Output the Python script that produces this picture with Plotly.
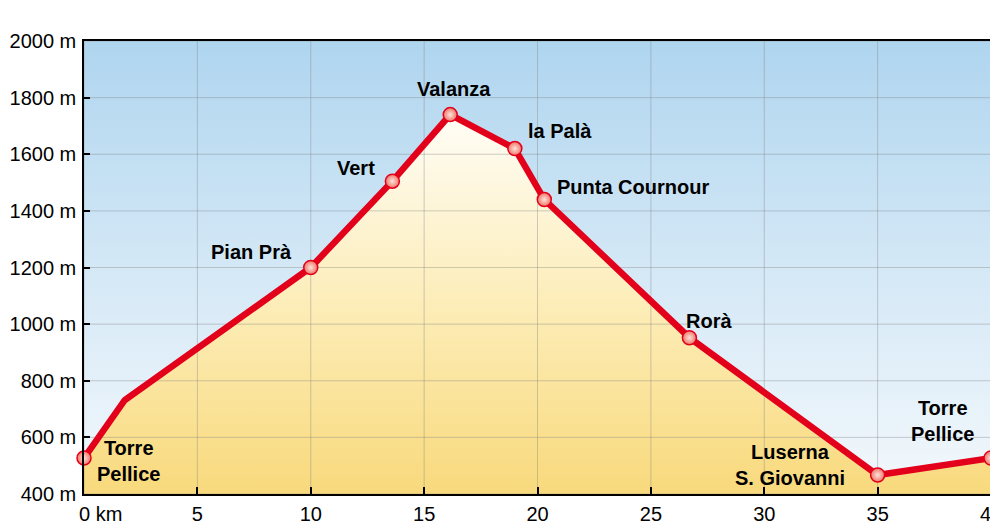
import plotly.graph_objs as go

# elevation profile: Torre Pellice loop
km = [0, 1.8, 10, 13.6, 16.15, 19.0, 20.3, 26.7, 35, 40]
elevation = [527, 732, 1200, 1505, 1740, 1620, 1440, 952, 467, 527]
names = ["Torre<br>Pellice", "", "Pian Prà", "Vert", "Valanza", "la Palà",
         "Punta Cournour", "Rorà", "Luserna<br>S. Giovanni", "Torre<br>Pellice"]

x_ticks = [0, 5, 10, 15, 20, 25, 30, 35, 40]
x_ticktext = ["\u00a0" * 6 + "0 km", "5", "10", "15", "20", "25", "30", "35", "40"]
y_ticks = [400, 600, 800, 1000, 1200, 1400, 1600, 1800, 2000]
y_ticktext = [f"{v} m" for v in y_ticks]

# label offsets in px relative to each point (style only)
label_shift = [(44, -3), None, (-59, 16), (-36, 13), (4, 26), (45, 18),
               (89, 13), (20, 17), (-88, 10), (-49, 37)]

RED = "#E3001B"
FONT = "Arial, Liberation Sans, sans-serif"

x_range = [x_ticks[0], x_ticks[-1]]
y_range = [y_ticks[0], y_ticks[-1]]

fig = go.Figure()

# sky background
fig.add_trace(
    go.Scatter(
        x=[x_range[0], x_range[1], x_range[1], x_range[0], x_range[0]],
        y=[y_range[0], y_range[0], y_range[1], y_range[1], y_range[0]],
        mode="none",
        fill="toself",
        fillgradient=dict(
            type="vertical",
            colorscale=[[0, "#F3F8FC"], [0.5, "#D4E8F6"], [1, "#AFD5EF"]],
            start=y_range[0],
            stop=y_range[1],
        ),
        hoverinfo="skip",
        showlegend=False,
    )
)

# yellow area under the profile
fig.add_trace(
    go.Scatter(
        x=km,
        y=elevation,
        mode="none",
        fill="tozeroy",
        fillgradient=dict(
            type="vertical",
            colorscale=[[0, "#F8D97C"], [0.45, "#FCEBB2"], [1, "#FFFDF6"]],
            start=y_range[0],
            stop=max(elevation),
        ),
        hoverinfo="skip",
        showlegend=False,
    )
)

# grid drawn over the fills
gx, gy = [], []
for t in x_ticks:
    gx += [t, t, None]
    gy += [y_range[0], y_range[1], None]
for t in y_ticks:
    gx += [x_range[0], x_range[1], None]
    gy += [t, t, None]
fig.add_trace(
    go.Scatter(
        x=gx, y=gy, mode="lines",
        line=dict(color="rgba(130,130,130,0.38)", width=1),
        hoverinfo="skip", showlegend=False,
    )
)

# profile line
fig.add_trace(
    go.Scatter(
        x=km, y=elevation, mode="lines",
        line=dict(color=RED, width=6.5),
        cliponaxis=False, showlegend=False,
    )
)

# named waypoints
pts = [i for i, n in enumerate(names) if n]
fig.add_trace(
    go.Scatter(
        x=[km[i] for i in pts],
        y=[elevation[i] for i in pts],
        mode="markers",
        marker=dict(
            size=14,
            color="#F07468",
            gradient=dict(type="radial", color="#FDE3DA"),
            line=dict(color=RED, width=1.5),
        ),
        cliponaxis=False, showlegend=False,
    )
)

for i in pts:
    dx, dy = label_shift[i]
    fig.add_annotation(
        x=km[i], y=elevation[i], text=f"<b>{names[i]}</b>",
        showarrow=False, xshift=dx, yshift=dy,
        font=dict(family=FONT, size=20, color="black", lineposition="none"),
        align="center",
    )

# page body adds ~8px offset, so margins are set against that
fig.update_layout(
    width=998,
    height=521,
    margin=dict(l=76, r=15, t=33, b=35, autoexpand=False),
    paper_bgcolor="white",
    plot_bgcolor="white",
    showlegend=False,
    font=dict(family=FONT, size=20, color="black"),
)
fig.update_xaxes(
    range=x_range, tickvals=x_ticks, ticktext=x_ticktext,
    showgrid=False, zeroline=False,
    showline=True, linecolor="black", linewidth=1.5, mirror=True,
    ticks="inside", ticklen=7, tickcolor="black", tickwidth=1.5,
    ticklabelstandoff=1, automargin=False,
)
fig.update_yaxes(
    range=y_range, tickvals=y_ticks, ticktext=y_ticktext,
    showgrid=False, zeroline=False,
    showline=True, linecolor="black", linewidth=1.5, mirror=True,
    ticks="inside", ticklen=6, tickcolor="black", tickwidth=1.5,
    ticklabelstandoff=2, automargin=False,
)

fig.write_html("out.html")
